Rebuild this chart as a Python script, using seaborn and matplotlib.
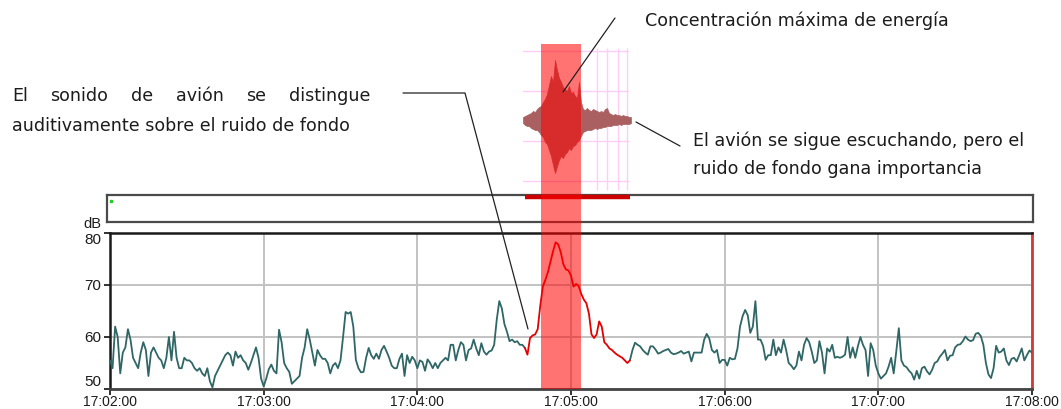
import numpy as np
import pandas as pd
import matplotlib
matplotlib.use("Agg")
import matplotlib.pyplot as plt
import seaborn as sns
from matplotlib.patches import Rectangle
from matplotlib.lines import Line2D
from matplotlib.transforms import blended_transform_factory

# ---------------------------------------------------------------- data
time_labels = ["17:02:00", "17:03:00", "17:04:00", "17:05:00",
               "17:06:00", "17:07:00", "17:08:00"]
y_ticks = [50, 60, 70, 80]

# 1-second sound level (dB), one list per minute
leq_1702 = [55.5, 54, 62, 60, 53, 57, 58, 61.5, 59.5, 56,
            55, 54, 57, 59, 57.5, 52.5, 57, 58, 57, 56,
            55.5, 54, 56, 60, 55.5, 61, 56, 54, 54, 56,
            55.5, 55.5, 55, 54, 53.5, 54, 53, 52.5, 54, 51.5,
            50.3, 52.5, 53.5, 54.5, 55.5, 56.5, 57, 56.5, 54.5, 57.2,
            56, 56.5, 55.5, 55, 53.7, 55, 56.5, 58, 56, 52]
leq_1703 = [50.5, 52, 53.8, 54.7, 53.5, 53, 61.4, 59, 55, 54,
            53.3, 51, 51.5, 52, 52.5, 56, 58, 61.5, 59.5, 57,
            54.5, 57.5, 56.5, 55.8, 55.8, 55, 53, 54.5, 55, 54,
            55.5, 60, 64.8, 64.5, 64.8, 62, 55.6, 54, 53.2, 53.3,
            56, 57.9, 56.5, 55.8, 56.8, 55.8, 57.5, 58.3, 57.2, 56,
            54.5, 54, 54, 55.8, 56.8, 52.5, 56.5, 55, 56.2, 55.5]
leq_1704 = [54, 55.5, 55.2, 53.5, 55.7, 55, 54, 55, 54, 55,
            55.5, 56, 55.5, 58.5, 58.5, 55.5, 57.5, 59, 58.5, 55.5,
            57.5, 57.8, 59.5, 57.8, 56.5, 58.8, 57.2, 56.6, 57.2, 57.4,
            58.5, 63.3, 66.9, 65.5, 62.5, 61, 59.2, 59.5, 59, 59.2,
            58.5, 58.5, 57.9, 56.6, 59.8, 60.3, 60.5, 61.5, 66, 69.7,
            71, 72.5, 74.5, 76.5, 78.2, 77.8, 76.3, 74, 73, 72.8]
leq_1705 = [71.8, 69.7, 70.2, 69.8, 68.3, 67.2, 66.5, 64.5, 60.5, 59.8,
            60.5, 63, 62, 59, 58.5, 57.8, 57.5, 57, 56.6, 56.3,
            56, 55.5, 55, 55.5, 57.5, 58.9, 58.5, 58.2, 57.5, 57,
            56.6, 58.2, 58.2, 57.6, 56.8, 57, 57.3, 57.5, 57.7, 57,
            56.7, 56.8, 57, 57.3, 56.8, 57, 57.2, 55.3, 57, 57,
            57, 57, 59.5, 60.6, 59.7, 57.5, 57, 57.5, 55, 55.6]
leq_1706 = [55.6, 54.5, 56, 55.7, 55.8, 57.8, 62, 64, 65.2, 64.2,
            60.8, 62, 66.9, 59.5, 59.5, 58.3, 55.6, 56.5, 56.5, 59.5,
            56.5, 58, 57, 59.5, 57.5, 55, 54.5, 53.8, 54.5, 57.2,
            55.5, 58.5, 59.8, 59, 57.2, 55, 55.5, 59.2, 57, 53,
            57.8, 57.2, 58.5, 56, 56.2, 56, 56.2, 56.6, 60, 56,
            58, 56, 58.2, 60, 58.5, 57.5, 52.5, 58.8, 57.5, 54.5]
leq_1707 = [53, 52, 52.5, 53, 54.3, 56, 53, 57.2, 61.7, 55.5,
            54.5, 54.2, 53.5, 53, 51.8, 53.5, 52, 54, 54.3, 53.4,
            52.8, 53.7, 55, 55.3, 56.2, 56.8, 57.5, 55.5, 56.4, 56.5,
            58, 58.5, 58.6, 59.2, 60.1, 59.5, 59.2, 59.4, 60.6, 60.8,
            60.2, 58.5, 55, 52.8, 52.1, 54, 58.3, 57, 57.2, 57.8,
            55.5, 54.6, 55.8, 56, 55.3, 56.5, 57.8, 55.5, 56.5, 57.4,
            57]

level_db = leq_1702 + leq_1703 + leq_1704 + leq_1705 + leq_1706 + leq_1707
seconds = np.arange(len(level_db))

# audible aircraft event and maximum-energy window (seconds after 17:02:00)
event_span = [162, 203]
peak_span = [168.3, 183.9]

# waveform envelope of the audio clip (upper / lower amplitude)
wave_top = [3, 4, 5, 6, 7, 9, 8, 11, 13, 14,
            18, 21, 26, 35, 44, 38, 60, 50, 42, 38,
            33, 31, 29, 34, 27, 28, 24, 22, 38, 18,
            11, 10, 12, 10, 9, 11, 10, 9, 8, 9,
            8, 11, 12, 7, 6, 5, 6, 5, 5, 4,
            5, 4, 4, 3, 3]
wave_bottom = [3, 5, 6, 6, 8, 9, 10, 10, 12, 15,
               17, 22, 24, 30, 36, 45, 53, 46, 40, 36,
               38, 34, 32, 28, 30, 26, 25, 22, 20, 16,
               12, 11, 10, 10, 10, 9, 8, 9, 8, 8,
               7, 7, 6, 6, 6, 5, 5, 5, 4, 5,
               4, 4, 4, 4, 3]

# ---------------------------------------------------------------- style
sns.set_theme(style="white")
plt.rcParams["font.family"] = ["DejaVu Sans"]

W, H = 1061, 409
TEAL = "#2f6666"
RED_LINE = "#e40000"
TXT = "#1c1c1c"
TICK_FONT = ["Liberation Sans", "DejaVu Sans"]
NOTE_FONT = ["DejaVu Sans"]

fig = plt.figure(figsize=(W / 100, H / 100), dpi=100)


def px_rect(x0, y0, x1, y1):
    return [x0 / W, 1 - y1 / H, (x1 - x0) / W, (y1 - y0) / H]


def fig_line(pts, **kw):
    xs = [p[0] / W for p in pts]
    ys = [1 - p[1] / H for p in pts]
    fig.add_artist(Line2D(xs, ys, transform=fig.transFigure, **kw))


# ---------------------------------------------------------------- main level chart
AX_L, AX_R = 110, 1032
ax = fig.add_axes(px_rect(AX_L, 233, AX_R, 389))
df = pd.DataFrame({"t": seconds, "db": level_db})
pre = df[df.t <= event_span[0]]
evt = df[(df.t >= event_span[0]) & (df.t <= event_span[1])]
post = df[df.t >= event_span[1]]
for part, col in ((pre, TEAL), (post, TEAL), (evt, RED_LINE)):
    sns.lineplot(data=part, x="t", y="db", ax=ax, color=col, lw=1.3, zorder=3)

ax.set_xlim(0, 360)
ax.set_ylim(50, 80)
ax.set_xticks(np.arange(0, 361, 60))
ax.set_xticklabels(time_labels, fontfamily=TICK_FONT, fontsize=10, color=TXT)
ax.set_yticks(y_ticks)
ax.set_yticklabels([str(v) for v in y_ticks], fontfamily=TICK_FONT,
                   fontsize=11, color=TXT)
ylabs = ax.get_yticklabels()
ylabs[0].set_va("bottom")
ylabs[-1].set_va("top")
ax.set_xlabel("")
ax.set_ylabel("")
ax.grid(True, color="#c2c2c2", lw=1.4, zorder=0)
ax.tick_params(axis="both", direction="out", length=4, width=1.3,
               color="#222222", bottom=True, left=True)
ax.tick_params(axis="x", pad=0.5)
ax.tick_params(axis="y", pad=2.5)
for side in ("left", "top"):
    ax.spines[side].set_color("#1a1a1a")
    ax.spines[side].set_linewidth(1.8)
ax.spines["bottom"].set_color("#444444")
ax.spines["bottom"].set_linewidth(2)
ax.spines["right"].set_color("#d03a3a")
ax.spines["right"].set_linewidth(2)

fig.text(92 / W, 1 - 224 / H, "dB", ha="center", va="center",
         fontsize=10.5, family=TICK_FONT, color=TXT)

# ---------------------------------------------------------------- event strip above the chart
px_per_s = (AX_R - AX_L) / 360.0
strip = fig.add_axes(px_rect(107, 195, 1033, 222))
strip.set_facecolor("none")
strip.set_xlim((107 - AX_L) / px_per_s, (1033 - AX_L) / px_per_s)
strip.set_ylim(0, 1)
strip.set_xticks([])
strip.set_yticks([])
for sp in strip.spines.values():
    sp.set_color("#4a4a4a")
    sp.set_linewidth(1.6)
strip.hlines(0.92, event_span[0], event_span[1], color="#cc0000", lw=3.2,
             clip_on=False, zorder=4)
strip.plot([0.4], [0.78], marker="s", ms=1.6, color="#22cc22", lw=0)

# ---------------------------------------------------------------- audio waveform
wav = fig.add_axes(px_rect(523, 40, 631, 200))
wav.set_xlim(0, len(wave_top) - 1)
wav.set_ylim(-80, 80)
wav.axis("off")
for gy in (69, 29, -21, -61):
    wav.axhline(gy, xmin=0, xmax=0.97, color="#ffcdfa", lw=1.0, zorder=0)
for gx in (37, 42, 47.5, 52):
    wav.vlines(gx, -70, 72, color="#ffcdfa", lw=1.0, zorder=0)
idx = np.arange(len(wave_top))
wav.fill_between(idx, -np.array(wave_bottom), np.array(wave_top),
                 color="#aa6060", lw=0.5, zorder=2)

# ---------------------------------------------------------------- maximum-energy band
band = Rectangle((peak_span[0], 1 - 389 / H), peak_span[1] - peak_span[0],
                 (389 - 44) / H,
                 transform=blended_transform_factory(ax.transData, fig.transFigure),
                 facecolor="#ff0000", alpha=0.55, lw=0, zorder=5)
fig.add_artist(band)

# ---------------------------------------------------------------- notes
note_kw = dict(fontsize=12.6, family=NOTE_FONT, color=TXT, va="center")

fig.text(645 / W, 1 - 21 / H, "Concentración máxima de energía", ha="left", **note_kw)
fig_line([(615, 18), (563, 92)], color="#222222", lw=0.9, zorder=6)


def justified(words, x0, x1, y):
    renderer = fig.canvas.get_renderer()
    texts = [fig.text(0, 1 - y / H, w, ha="left", **note_kw) for w in words]
    widths = [t.get_window_extent(renderer).width for t in texts]
    gap = (x1 - x0 - sum(widths)) / (len(words) - 1)
    x = x0
    for t, w in zip(texts, widths):
        t.set_x(x / W)
        x += w + gap


justified(["El", "sonido", "de", "avión", "se", "distingue"], 12, 370, 96)
fig.text(12 / W, 1 - 126 / H, "auditivamente sobre el ruido de fondo",
         ha="left", **note_kw)
fig_line([(403, 93), (465, 93), (528, 329)], color="#222222", lw=0.9, zorder=6)

fig.text(693 / W, 1 - 141 / H, "El avión se sigue escuchando, pero el",
         ha="left", **note_kw)
fig.text(693 / W, 1 - 169 / H, "ruido de fondo gana importancia",
         ha="left", **note_kw)
fig_line([(636, 122), (680, 146)], color="#222222", lw=0.9, zorder=6)

fig.savefig("out.png", dpi=100)
